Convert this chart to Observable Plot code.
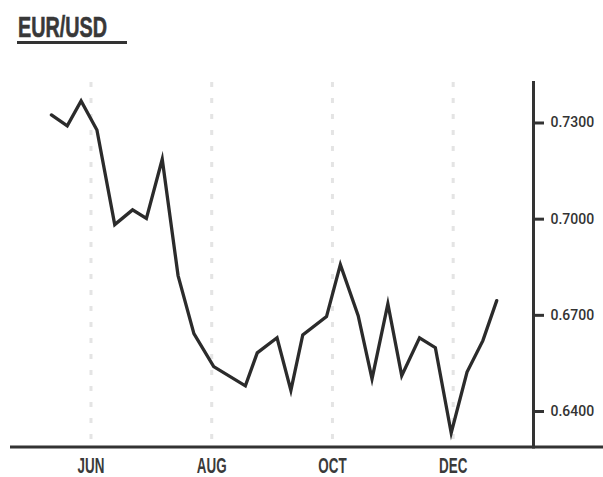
<!DOCTYPE html>
<html>
<head>
<meta charset="utf-8">
<script src="https://cdn.jsdelivr.net/npm/d3@7"></script>
<script src="https://cdn.jsdelivr.net/npm/@observablehq/plot@0.6"></script>
<style>
  html, body { margin: 0; padding: 0; background: #fff; }
  #wrap { width: 603px; height: 477px; position: relative; overflow: hidden; }
  #title { position: relative; height: 60px; }
  #title span { position: absolute; left: 18px; top: 11.5px; font: bold 30px/30px "Liberation Sans", sans-serif; color: #383838; transform: scaleX(0.66); transform-origin: 0 0; white-space: nowrap; -webkit-text-stroke: 0.6px #383838; }
  #title div { position: absolute; left: 17px; top: 41px; width: 110px; height: 3px; background: #333; }
  svg g[aria-label="y-axis tick label"] text { font-family: Roboto, sans-serif; font-size: 14px; font-weight: 500; }
  svg g[aria-label="x-axis tick label"] text { font-family: "Liberation Sans", sans-serif; font-size: 22px; font-weight: bold; fill: #3a3a3a; }
</style>
</head>
<body>
<div id="wrap">
  <div id="title"><span>EUR/USD</span><div></div></div>
  <div id="chart"></div>
</div>
<script>
const dates = [
  "2009-05-12","2009-05-20","2009-05-27","2009-06-04","2009-06-13","2009-06-22","2009-06-29",
  "2009-07-07","2009-07-15","2009-07-23","2009-08-02","2009-08-18","2009-08-24","2009-09-03",
  "2009-09-10","2009-09-16","2009-09-28","2009-10-05","2009-10-14","2009-10-21","2009-10-29",
  "2009-11-05","2009-11-14","2009-11-22","2009-11-30","2009-12-08","2009-12-16","2009-12-23"
];
const values = [
  0.7325, 0.7291, 0.7369, 0.7278, 0.6983, 0.7029, 0.7002,
  0.7187, 0.6824, 0.6643, 0.6540, 0.6480, 0.6583, 0.6630,
  0.6466, 0.6639, 0.6696, 0.6858, 0.6699, 0.6502, 0.6736,
  0.6512, 0.6630, 0.6599, 0.6333, 0.6523, 0.6621, 0.6746
];
const monthTicks = ["2009-06-01","2009-08-01","2009-10-01","2009-12-01"];
const monthLabels = ["JUN","AUG","OCT","DEC"];
const yTicks = [0.64, 0.67, 0.70, 0.73];

const data = dates.map((d, i) => ({date: new Date(d), value: values[i]}));
const monthDates = monthTicks.map(d => new Date(d));
const labelByTime = new Map(monthDates.map((d, i) => [+d, monthLabels[i]]));

const yMin = 0.62893, yMax = 0.74263;

const chart = Plot.plot({
  width: 603,
  height: 417,
  marginTop: 22,
  marginBottom: 30.5,
  marginLeft: 10,
  marginRight: 70,
  style: {background: "white", color: "#333", fontFamily: "Roboto, sans-serif", overflow: "visible"},
  x: {type: "utc", domain: [new Date("2009-04-21T08:00Z"), new Date("2010-01-10T14:00Z")]},
  y: {domain: [yMin, yMax]},
  marks: [
    Plot.ruleX(monthDates, {stroke: "#e4e4e4", strokeWidth: 3, strokeDasharray: "5,11"}),
    Plot.ruleY([yMin], {stroke: "#333", strokeWidth: 3, insetRight: -70}),
    Plot.frame({anchor: "right", stroke: "#333", strokeWidth: 3}),
    Plot.axisY(yTicks, {anchor: "right", tickSize: 10, tickPadding: 7, strokeWidth: 3,
      tickFormat: d3.format(".4f"), label: null}),
    Plot.axisX(monthDates, {anchor: "bottom", tickSize: 0, tickPadding: 10,
      tickFormat: d => labelByTime.get(+d), label: null}),
    Plot.line(data, {x: "date", y: "value", stroke: "#2b2b2b", strokeWidth: 3.3, strokeLinejoin: "miter", strokeMiterlimit: 10})
  ]
});
document.getElementById("chart").appendChild(chart);

// condense the month labels horizontally around their own anchor
d3.select(chart).selectAll('g[aria-label="x-axis tick label"] text').each(function() {
  const t = this.getAttribute("transform") || "";
  const x = +(this.getAttribute("x") || 0);
  this.setAttribute("transform", `${t} translate(${x},0) scale(0.61,1) translate(${-x},0)`);
});
</script>
</body>
</html>
